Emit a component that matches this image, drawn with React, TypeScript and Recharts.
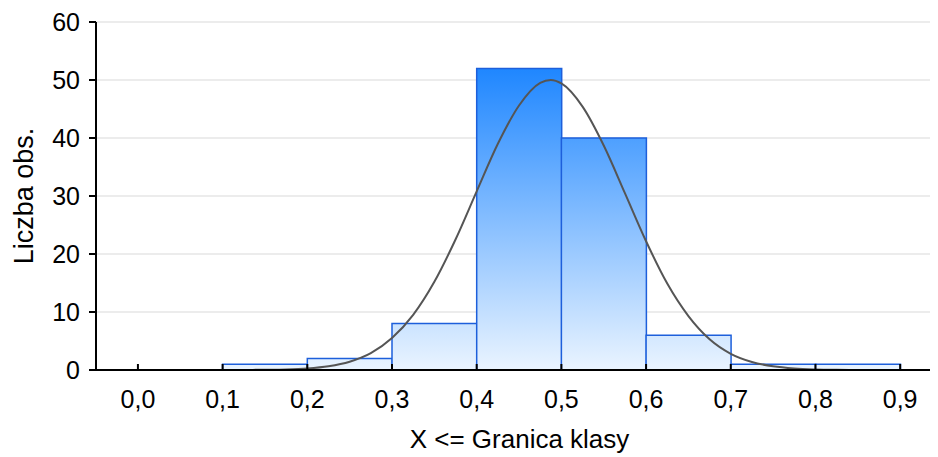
import { ComposedChart, Bar, Line, XAxis, YAxis, CartesianGrid, Label } from 'recharts';

// class midpoints (bin width 0.1) and counts
const binMids = [0.05, 0.15, 0.25, 0.35, 0.45, 0.55, 0.65, 0.75, 0.85];
const binCounts = [0, 1, 2, 8, 52, 40, 6, 1, 1];

// fitted normal curve
const curveX = [
  0.1, 0.125, 0.15, 0.175, 0.2, 0.225, 0.25, 0.275, 0.3, 0.325, 0.35, 0.375, 0.4, 0.425, 0.45,
  0.475, 0.4875, 0.5, 0.525, 0.55, 0.575, 0.6, 0.625, 0.65, 0.675, 0.7, 0.725, 0.75, 0.775, 0.8,
  0.825, 0.85,
];
const curveY = [
  0, 0.01, 0.04, 0.1, 0.27, 0.65, 1.43, 2.9, 5.5, 9.5, 15.2, 22.5, 30.8, 39.0, 45.6,
  49.5, 50.0, 49.4, 45.4, 38.7, 30.5, 22.2, 14.9, 9.3, 5.3, 2.8, 1.39, 0.63, 0.26, 0.1,
  0.035, 0.01,
];

const xTicks = [0, 0.1, 0.2, 0.3, 0.4, 0.5, 0.6, 0.7, 0.8, 0.9];
const yTicks = [0, 10, 20, 30, 40, 50, 60];

const barData = binMids.map((x, i) => ({ x, count: binCounts[i] }));
const curveData = curveX.map((x, i) => ({ x, fit: curveY[i] }));

const FONT = 'Liberation Sans, Arial, sans-serif';
const fmt = (v: number) => v.toFixed(1).replace('.', ',');

const X_DOMAIN: [number, number] = [-0.0495, 0.9435];

export default function App() {
  return (
    <div style={{ fontFamily: FONT }}>
      <ComposedChart
        width={930}
        height={449}
        data={barData}
        margin={{ top: 14, right: 1, left: 0, bottom: 0 }}
        barCategoryGap={0}
        barGap={0}
      >
        <defs>
          <linearGradient id="barFill" gradientUnits="userSpaceOnUse" x1="0" y1="14" x2="0" y2="362">
            <stop offset="0" stopColor="#0a78ff" />
            <stop offset="0.13" stopColor="#1e86ff" />
            <stop offset="1" stopColor="#eaf4ff" />
          </linearGradient>
        </defs>
        <CartesianGrid vertical={false} stroke="#e6e6e6" strokeWidth={1.5} />
        <XAxis
          dataKey="x"
          type="number"
          domain={X_DOMAIN}
          allowDataOverflow
          ticks={xTicks}
          tickFormatter={fmt}
          height={87}
          tickSize={-6}
          tickMargin={26}
          tick={{ fontSize: 25, fill: '#000', fontFamily: FONT }}
          axisLine={{ stroke: '#000', strokeWidth: 2 }}
          tickLine={{ stroke: '#000', strokeWidth: 2 }}
        >
          <Label
            value="X <= Granica klasy"
            position="insideBottom"
            offset={9}
            dx={3}
            style={{ fontSize: 26, fill: '#000', fontFamily: FONT }}
          />
        </XAxis>
        {/* top frame with inward ticks; the fitted curve uses this axis too */}
        <XAxis
          xAxisId="top"
          orientation="top"
          dataKey="x"
          type="number"
          domain={X_DOMAIN}
          allowDataOverflow
          ticks={xTicks}
          height={0}
          tickSize={-6}
          tick={() => null}
          axisLine={{ stroke: '#000', strokeWidth: 2 }}
          tickLine={{ stroke: '#000', strokeWidth: 2 }}
        />
        <YAxis
          type="number"
          domain={[0, 60]}
          ticks={yTicks}
          width={88}
          tickSize={7}
          tickMargin={9}
          tick={{ fontSize: 25, fill: '#000', fontFamily: FONT }}
          axisLine={{ stroke: '#000', strokeWidth: 2 }}
          tickLine={{ stroke: '#000', strokeWidth: 2 }}
        >
          <Label
            value="Liczba obs."
            angle={-90}
            position="center"
            dx={-29}
            style={{ fontSize: 27, fill: '#000', fontFamily: FONT, textAnchor: 'middle' }}
          />
        </YAxis>
        <Bar
          dataKey="count"
          fill="url(#barFill)"
          stroke="#1d5fdb"
          strokeWidth={1.5}
          isAnimationActive={false}
        />
        <Line
          xAxisId="top"
          data={curveData}
          dataKey="fit"
          type="monotone"
          stroke="#555555"
          strokeWidth={2}
          dot={false}
          activeDot={false}
          isAnimationActive={false}
        />
      </ComposedChart>
    </div>
  );
}
